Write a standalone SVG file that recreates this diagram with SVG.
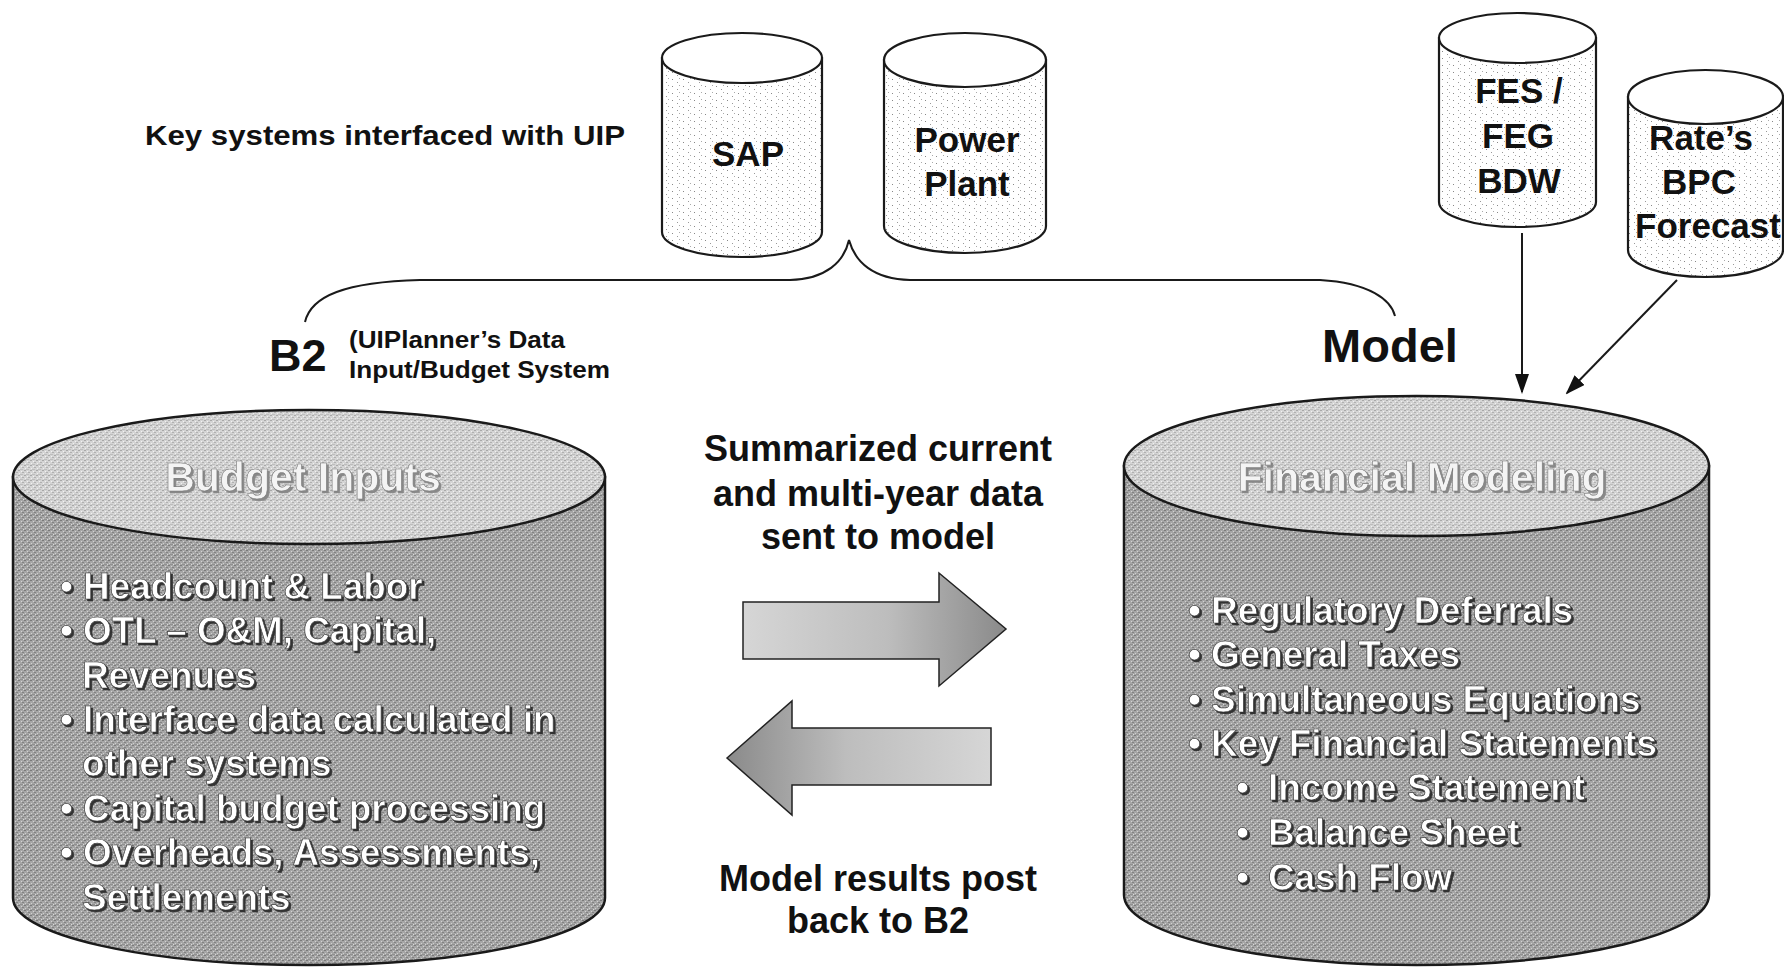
<svg xmlns="http://www.w3.org/2000/svg" width="1784" height="970" viewBox="0 0 1784 970">
<style>
  .lbl{font-family:"Liberation Sans",Arial,sans-serif;font-weight:bold;fill:#111}
  .db{font-family:"Liberation Sans",Arial,sans-serif;font-weight:bold;fill:#111;font-size:35px;text-anchor:middle}
  .wt{font-family:"Liberation Sans",Arial,sans-serif;font-weight:bold;fill:#fff;stroke:#3a3a3a;stroke-width:0.7;font-size:36.8px;filter:url(#emb)}
  .ttl{font-family:"Liberation Sans",Arial,sans-serif;font-weight:bold;fill:#f4f4f4;stroke:#777;stroke-width:0.6;font-size:41px;text-anchor:middle;filter:url(#emb2)}
  .cylline{stroke:#1a1a1a;stroke-width:2.5}
  .smline{stroke:#1a1a1a;stroke-width:2.2}
  .conn{fill:none;stroke:#1a1a1a;stroke-width:2}
</style>
<defs>
  <pattern id="dots" width="11" height="7" patternUnits="userSpaceOnUse">
    <rect width="11" height="7" fill="#fff"/>
    <rect x="1" y="2" width="1" height="1" fill="#888"/>
    <rect x="6" y="5" width="1" height="1" fill="#999"/>
    <rect x="8" y="1" width="1" height="1" fill="#aaa"/>
  </pattern>
  <pattern id="body" width="6" height="5" patternUnits="userSpaceOnUse">
    <rect width="6" height="5" fill="#a6a6a6"/>
    <rect x="0" y="0" width="2" height="1" fill="#7a7a7a"/>
    <rect x="3" y="1" width="1" height="1" fill="#d2d2d2"/>
    <rect x="4" y="2" width="2" height="1" fill="#828282"/>
    <rect x="1" y="3" width="1" height="1" fill="#cfcfcf"/>
    <rect x="2" y="4" width="3" height="1" fill="#909090"/>
    <rect x="5" y="4" width="1" height="1" fill="#dadada"/>
  </pattern>
  <pattern id="top" width="6" height="5" patternUnits="userSpaceOnUse">
    <rect width="6" height="5" fill="#d4d4d4"/>
    <rect x="0" y="0" width="2" height="1" fill="#a8a8a8"/>
    <rect x="3" y="1" width="1" height="1" fill="#f2f2f2"/>
    <rect x="4" y="2" width="2" height="1" fill="#b0b0b0"/>
    <rect x="1" y="3" width="1" height="1" fill="#f0f0f0"/>
    <rect x="2" y="4" width="3" height="1" fill="#bdbdbd"/>
  </pattern>
  <linearGradient id="gR" x1="0" y1="0" x2="1" y2="0">
    <stop offset="0" stop-color="#d6d6d6"/>
    <stop offset="0.55" stop-color="#bdbdbd"/>
    <stop offset="1" stop-color="#8a8a8a"/>
  </linearGradient>
  <linearGradient id="gL" x1="0" y1="0" x2="1" y2="0">
    <stop offset="0" stop-color="#8a8a8a"/>
    <stop offset="0.45" stop-color="#bdbdbd"/>
    <stop offset="1" stop-color="#d6d6d6"/>
  </linearGradient>
  <filter id="emb" x="-5%" y="-30%" width="110%" height="160%">
    <feOffset in="SourceAlpha" dx="2" dy="2" result="o"/>
    <feFlood flood-color="#333"/>
    <feComposite in2="o" operator="in" result="s"/>
    <feMerge><feMergeNode in="s"/><feMergeNode in="SourceGraphic"/></feMerge>
  </filter>
  <filter id="emb2" x="-5%" y="-30%" width="110%" height="160%">
    <feOffset in="SourceAlpha" dx="1.5" dy="1.5" result="o"/>
    <feFlood flood-color="#888"/>
    <feComposite in2="o" operator="in" result="s"/>
    <feMerge><feMergeNode in="s"/><feMergeNode in="SourceGraphic"/></feMerge>
  </filter>
  <marker id="ah" viewBox="0 0 10 10" refX="9" refY="5" markerWidth="20" markerHeight="14" markerUnits="userSpaceOnUse" orient="auto" preserveAspectRatio="none">
    <path d="M0,0 L10,5 L0,10 Z" fill="#111"/>
  </marker>
</defs>
<rect width="1784" height="970" fill="#fff"/>

<text id="key-label" class="lbl" x="145" y="145" font-size="28" textLength="480" lengthAdjust="spacingAndGlyphs" fill="#222">Key systems interfaced with UIP</text>

<g id="sap">
  <path class="smline" d="M662,58 L662,232 A80,25 0 0 0 822,232 L822,58 Z" fill="url(#dots)"/>
  <ellipse class="smline" cx="742" cy="58" rx="80" ry="25" fill="#fff"/>
  <text class="db" x="748" y="166" font-size="37">SAP</text>
</g>
<g id="power-plant">
  <path class="smline" d="M884,60 L884,226 A81,27 0 0 0 1046,226 L1046,60 Z" fill="url(#dots)"/>
  <ellipse class="smline" cx="965" cy="60" rx="81" ry="27" fill="#fff"/>
  <text class="db" x="967" y="152">Power</text>
  <text class="db" x="967" y="196">Plant</text>
</g>
<g id="fes">
  <path class="smline" d="M1439,38 L1439,202 A78.5,25 0 0 0 1596,202 L1596,38 Z" fill="url(#dots)"/>
  <ellipse class="smline" cx="1517.5" cy="38" rx="78.5" ry="25" fill="#fff"/>
  <text class="db" x="1519" y="103">FES /</text>
  <text class="db" x="1518" y="148">FEG</text>
  <text class="db" x="1519" y="193">BDW</text>
</g>
<g id="rates">
  <path class="smline" d="M1628,97 L1628,250 A77.5,27 0 0 0 1783,250 L1783,97 Z" fill="url(#dots)"/>
  <ellipse class="smline" cx="1705.5" cy="97" rx="77.5" ry="27" fill="#fff"/>
  <text class="db" x="1701" y="150">Rate’s</text>
  <text class="db" x="1699" y="194">BPC</text>
  <text class="db" x="1708" y="238">Forecast</text>
</g>

<g id="b2-label">
  <text class="lbl" x="269" y="371" font-size="45">B2</text>
  <text class="lbl" x="349" y="348" font-size="24" textLength="216" lengthAdjust="spacingAndGlyphs">(UIPlanner’s Data</text>
  <text class="lbl" x="349" y="378" font-size="24" textLength="261" lengthAdjust="spacingAndGlyphs">Input/Budget System</text>
</g>
<g id="model-label">
  <text class="lbl" x="1390" y="362" font-size="47" text-anchor="middle">Model</text>
</g>

<g id="budget-inputs">
  <path class="cylline" d="M13,477 L13,898 A296,67 0 0 0 605,898 L605,477 Z" fill="url(#body)"/>
  <ellipse class="cylline" cx="309" cy="477" rx="296" ry="67" fill="url(#top)"/>
  <text class="ttl" x="303" y="491">Budget Inputs</text>
  <text class="wt" x="60" y="599">• Headcount &amp; Labor</text>
  <text class="wt" x="60" y="643">• OTL – O&amp;M, Capital,</text>
  <text class="wt" x="82" y="688">Revenues</text>
  <text class="wt" x="60" y="732">• Interface data calculated in</text>
  <text class="wt" x="82" y="776">other systems</text>
  <text class="wt" x="60" y="821">• Capital budget processing</text>
  <text class="wt" x="60" y="865">• Overheads, Assessments,</text>
  <text class="wt" x="82" y="910">Settlements</text>
</g>

<g id="financial-modeling">
  <path class="cylline" d="M1124,466 L1124,895 A292.5,70 0 0 0 1709,895 L1709,466 Z" fill="url(#body)"/>
  <ellipse class="cylline" cx="1416.5" cy="466" rx="292.5" ry="70" fill="url(#top)"/>
  <text class="ttl" x="1422" y="491">Financial Modeling</text>
  <text class="wt" x="1188" y="623">• Regulatory Deferrals</text>
  <text class="wt" x="1188" y="667">• General Taxes</text>
  <text class="wt" x="1188" y="712">• Simultaneous Equations</text>
  <text class="wt" x="1188" y="756">• Key Financial Statements</text>
  <text class="wt" x="1236" y="800">•<tspan x="1268">Income Statement</tspan></text>
  <text class="wt" x="1236" y="845">•<tspan x="1268">Balance Sheet</tspan></text>
  <text class="wt" x="1236" y="890">•<tspan x="1268">Cash Flow</tspan></text>
</g>

<g id="summary-label">
  <text class="lbl" x="878" y="461" font-size="36" text-anchor="middle">Summarized current</text>
  <text class="lbl" x="878" y="506" font-size="36" text-anchor="middle">and multi-year data</text>
  <text class="lbl" x="878" y="549" font-size="36" text-anchor="middle">sent to model</text>
</g>
<g id="results-label">
  <text class="lbl" x="878" y="891" font-size="36" text-anchor="middle">Model results post</text>
  <text class="lbl" x="878" y="933" font-size="36" text-anchor="middle">back to B2</text>
</g>

<g id="connectors">
  <path class="conn" d="M305,322 C311,296 345,282 420,280 L790,280 C826,279 844,262 849,240 C855,262 873,279 910,280 L1320,280 C1370,283 1391,300 1395,316"/>
  <line class="conn" x1="1522" y1="233" x2="1522" y2="392" marker-end="url(#ah)"/>
  <line class="conn" x1="1677" y1="280" x2="1567" y2="393" marker-end="url(#ah)"/>
  <path d="M743,602 L939,602 L939,573 L1006,629 L939,686 L939,659 L743,659 Z" fill="url(#gR)" stroke="#222" stroke-width="1.5"/>
  <path d="M727,758 L792,701 L792,728 L991,728 L991,785 L792,785 L792,815 Z" fill="url(#gL)" stroke="#222" stroke-width="1.5"/>
</g>
</svg>
